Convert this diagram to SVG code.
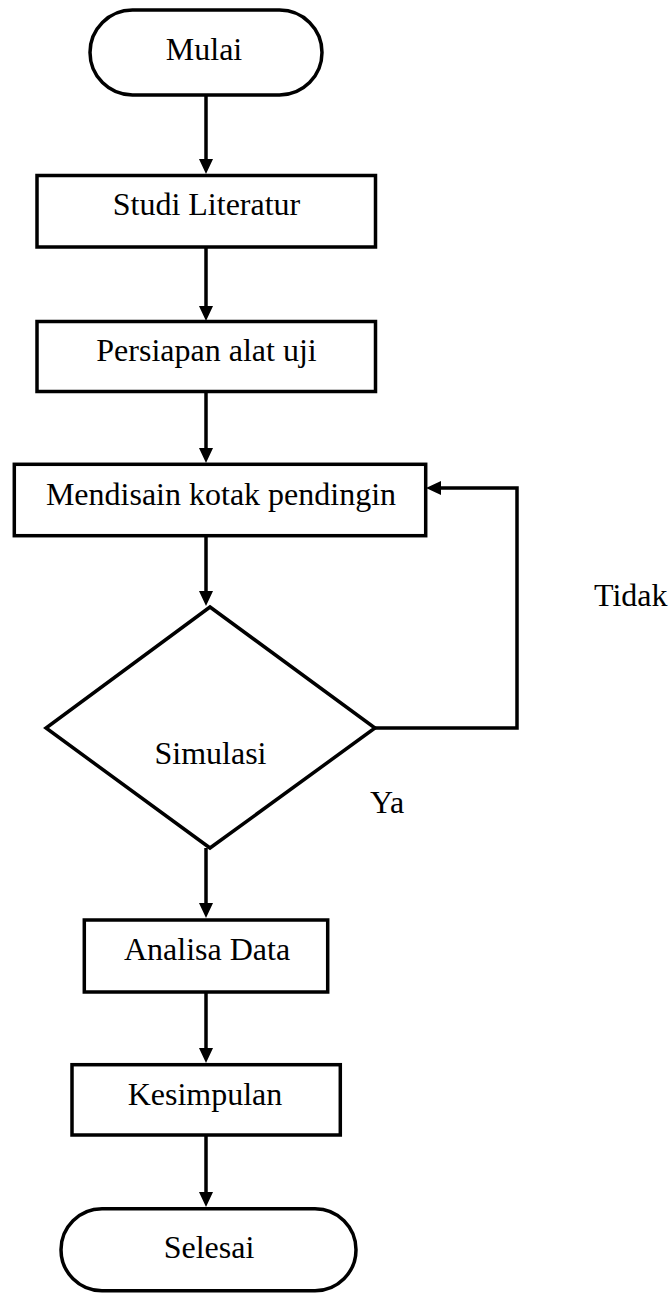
<svg xmlns="http://www.w3.org/2000/svg" width="669" height="1293" viewBox="0 0 669 1293">
  <style>
    .shape { fill: #ffffff; stroke: #000000; stroke-width: 3.5; }
    .edge { fill: none; stroke: #000000; stroke-width: 3.5; stroke-linejoin: miter; }
    .label { font-family: "Liberation Serif", "Times New Roman", serif; font-size: 32px; fill: #000000; }
    .mid { text-anchor: middle; }
  </style>
  <defs>
    <marker id="arrow" markerUnits="userSpaceOnUse" markerWidth="16" markerHeight="16" refX="7" refY="7" orient="auto">
      <path d="M0,0 L15,7 L0,14 z" fill="#000000"/>
    </marker>
  </defs>
  <rect x="0" y="0" width="669" height="1293" fill="#ffffff"/>

  <g id="connectors">
    <line class="edge" x1="206" y1="95" x2="206" y2="166" marker-end="url(#arrow)"/>
    <line class="edge" x1="206" y1="248" x2="206" y2="313" marker-end="url(#arrow)"/>
    <line class="edge" x1="206" y1="392" x2="206" y2="455" marker-end="url(#arrow)"/>
    <line class="edge" x1="206" y1="537" x2="206" y2="598" marker-end="url(#arrow)"/>
    <polyline class="edge" points="375,728 517,728 517,488 434,488" marker-end="url(#arrow)"/>
    <line class="edge" x1="206" y1="848" x2="206" y2="910" marker-end="url(#arrow)"/>
    <line class="edge" x1="206" y1="993" x2="206" y2="1055" marker-end="url(#arrow)"/>
    <line class="edge" x1="206" y1="1136" x2="206" y2="1199" marker-end="url(#arrow)"/>
  </g>

  <g id="node-mulai">
    <rect class="shape" x="90" y="10" width="232" height="85" rx="42.5" ry="42.5"/>
    <text class="label mid" x="204" y="60">Mulai</text>
  </g>

  <g id="node-studi">
    <rect class="shape" x="37" y="175.5" width="338.5" height="71.5"/>
    <text class="label mid" x="206.5" y="215">Studi Literatur</text>
  </g>

  <g id="node-persiapan">
    <rect class="shape" x="37" y="321.5" width="338.5" height="70"/>
    <text class="label mid" x="206.5" y="361">Persiapan alat uji</text>
  </g>

  <g id="node-mendisain">
    <rect class="shape" x="14.3" y="464.3" width="411.4" height="71.4"/>
    <text class="label mid" x="221" y="505">Mendisain kotak pendingin</text>
  </g>

  <g id="node-simulasi">
    <polygon class="shape" points="210,607 375,728 210,848 46,728"/>
    <text class="label mid" x="210.5" y="764">Simulasi</text>
  </g>

  <g id="node-analisa">
    <rect class="shape" x="84.3" y="920" width="243.4" height="72"/>
    <text class="label mid" x="207" y="960">Analisa Data</text>
  </g>

  <g id="node-kesimpulan">
    <rect class="shape" x="72" y="1064.7" width="268.3" height="70.3"/>
    <text class="label mid" x="205" y="1105">Kesimpulan</text>
  </g>

  <g id="node-selesai">
    <rect class="shape" x="61" y="1208.7" width="295" height="82" rx="41" ry="41"/>
    <text class="label mid" x="209" y="1258">Selesai</text>
  </g>

  <g id="edge-labels">
    <text class="label" x="594" y="606">Tidak</text>
    <text class="label" x="370" y="813">Ya</text>
  </g>
</svg>
